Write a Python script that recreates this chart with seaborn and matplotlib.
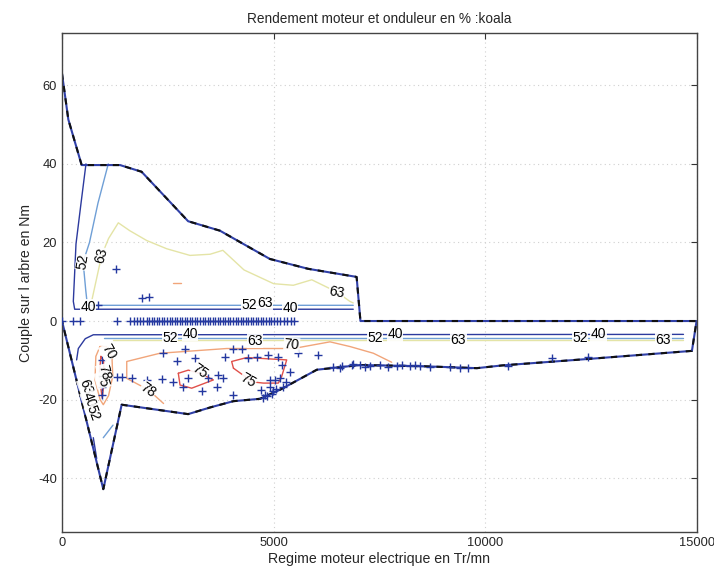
import matplotlib
matplotlib.use("Agg")
import matplotlib.pyplot as plt
import seaborn as sns

sns.set_theme(style="white")
plt.rcParams["font.family"] = ["Liberation Sans", "DejaVu Sans"]
plt.rcParams["axes.unicode_minus"] = False

# Operating envelope of the motor (speed in rpm, torque in Nm)
env_speed = [0, 150, 465, 1370, 1880, 2980, 3730, 4910, 5810, 6920, 6960, 7050,
             14990, 14880, 12500, 10400, 9800, 8500, 7040, 6020, 5150, 4680,
             4050, 3500, 2980, 1410, 976, 0]
env_torque = [63, 51.3, 39.7, 39.7, 38.0, 25.4, 23.0, 15.8, 13.3, 11.3, 11.2, 0.0,
              0.0, -7.6, -9.6, -11.3, -12.0, -11.5, -11.2, -12.4, -17.5, -19.8,
              -20.4, -22.0, -23.7, -21.3, -42.8, 0]

# Efficiency iso-lines (percent), one path per list pair
c40_pos_x = [567, 450, 331, 290, 268, 300, 6880]
c40_pos_y = [40, 30, 19.6, 10, 5, 3.0, 3.0]
c52_pos_x = [1094, 850, 650, 500, 560, 600, 6880]
c52_pos_y = [40, 30, 20, 15, 8, 4.0, 4.0]
c63_pos_x = [700, 937, 1100, 1331, 1600, 2000, 2473, 3024, 3500, 3800, 4300,
             5000, 5465, 5900, 6489, 6800, 6880]
c63_pos_y = [5, 16.7, 21, 25, 23, 20.5, 18.4, 16.7, 17, 18, 13, 9.5, 9.1,
             10.5, 7.4, 5, 4.6]
c70_pos_x = [2620, 2800]
c70_pos_y = [9.7, 9.7]

c40_neg_x = [346, 386, 550, 740, 14680]
c40_neg_y = [-9.9, -7, -4.5, -3.5, -3.4]
c52_neg_x = [1000, 14680]
c52_neg_y = [-4.4, -4.4]
c63_neg_x = [1200, 14680]
c63_neg_y = [-4.9, -4.9]
c70_neg_x = [2400, 2040, 1530, 1530, 2315, 3890, 5465, 6331, 6804, 7355, 7788]
c70_neg_y = [-21, -17.5, -14.6, -10.3, -8.2, -7, -7, -5.3, -6.5, -8.2, -10.5]
c70_pocket_x = [898, 800, 780, 900, 976, 1100, 1200, 1180, 1050, 898]
c70_pocket_y = [-6.5, -9, -15, -20, -21.3, -19, -14, -9, -6.5, -6.5]
c75_pocket_x = [920, 880, 950, 1000, 980, 920]
c75_pocket_y = [-9, -14, -19.6, -15, -10, -9]
c75_a_x = [2748, 2984, 3300, 3575, 3064, 2788, 2748]
c75_a_y = [-13.3, -12.5, -13.5, -15, -17.1, -16.3, -13.3]
c75_b_x = [4050, 4008, 4363, 5308, 5190, 5111, 4756, 4500, 4050]
c75_b_y = [-12, -10.3, -9.3, -9.9, -14.1, -15.8, -15.8, -15.5, -12]
c40_tip_x = [740, 820]
c40_tip_y = [-29.7, -35]
c52_tip_x = [976, 1205]
c52_tip_y = [-29.7, -26.5]

level_colors = {40: "#2c3a9e", 52: "#6f9fd6", 63: "#e4e4a6", 70: "#f1a57a",
                75: "#e0504a", 78: "#c8463c"}

paths = [
    (40, c40_pos_x, c40_pos_y), (52, c52_pos_x, c52_pos_y),
    (63, c63_pos_x, c63_pos_y), (70, c70_pos_x, c70_pos_y),
    (40, c40_neg_x, c40_neg_y), (52, c52_neg_x, c52_neg_y),
    (63, c63_neg_x, c63_neg_y), (70, c70_neg_x, c70_neg_y),
    (70, c70_pocket_x, c70_pocket_y), (75, c75_pocket_x, c75_pocket_y),
    (75, c75_a_x, c75_a_y), (75, c75_b_x, c75_b_y),
    (40, c40_tip_x, c40_tip_y), (52, c52_tip_x, c52_tip_y),
]

# Inline contour labels: speed, torque, level, angle
lab_x = [500, 937, 622, 4420, 4800, 5386, 6489,
         2551, 3024, 4560, 5426, 7394, 7867, 9363, 12237, 12670, 14205,
         1094, 960, 1000, 2040, 3260, 4402, 560, 640, 740]
lab_y = [15, 16.7, 3.6, 4.0, 4.6, 3.2, 7.4,
         -4.3, -3.2, -5.0, -6.1, -4.2, -3.4, -4.9, -4.2, -3.4, -4.9,
         -7.8, -15, -13, -17.5, -12.7, -15, -16.7, -20, -23.4]
lab_level = [52, 63, 40, 52, 63, 40, 63,
             52, 40, 63, 70, 52, 40, 63, 52, 40, 63,
             70, 75, 78, 78, 75, 75, 63, 40, 52]
lab_rot = [80, 75, 0, 0, 0, 0, -10,
           0, 0, 0, -5, 0, 0, 0, 0, 0, 0,
           -60, -75, -75, -35, -35, -30, -70, -70, -70]

# Operating points of the drive cycle
pt_x = [0, 267, 425, 1292, 1600, 1700, 1780, 1850, 1920, 2000, 2060, 2120,
        2180, 2240, 2300, 2360, 2420, 2480, 2540, 2600, 2660, 2720, 2780,
        2840, 2900, 2960, 3020, 3080, 3140, 3200, 3260, 3320, 3380, 3440,
        3500, 3560, 3620, 3680, 3740, 3800, 3860, 3920, 3980, 4040, 4100,
        4160, 4220, 4280, 4340, 4400, 4460, 4520, 4580, 4640, 4700, 4760,
        4820, 4880, 4940, 5000, 5080, 5160, 5240, 5320, 5400, 5480,
        858, 1276, 1882, 2063,
        937, 937, 937, 1292, 1410, 1646, 2000, 2355, 2394, 2709, 2906, 3142,
        2984, 2630, 2866, 3300, 3457, 3693, 3811, 3654, 3851, 4047, 4245,
        4047, 4402, 4599, 4874, 5111, 4914, 5032, 5150, 5386, 4796, 4756,
        4992, 4914, 5229, 5190, 4850, 4950, 5050, 4700, 5300,
        5583, 6055, 6410, 6567, 6607, 6843, 6882, 7040, 7158, 7276, 7512,
        7709, 7906, 8025, 8221, 8339, 8457, 8694, 9166, 9402, 9599, 10543,
        11568, 12433]
pt_y = [0, 0, 0, 0, 0, 0, 0, 0, 0, 0, 0, 0,
        0, 0, 0, 0, 0, 0, 0, 0, 0, 0, 0,
        0, 0, 0, 0, 0, 0, 0, 0, 0, 0, 0,
        0, 0, 0, 0, 0, 0, 0, 0, 0, 0, 0,
        0, 0, 0, 0, 0, 0, 0, 0, 0, 0, 0,
        0, 0, 0, 0, 0, 0, 0, 0, 0, 0,
        4.2, 13.3, 5.9, 6.1,
        -9.9, -16.7, -18.8, -14.3, -14.3, -14.6, -15, -14.8, -8.2, -10.3, -7, -9.5,
        -14.6, -15.4, -16.7, -17.9, -14.6, -13.7, -14.6, -16.7, -9.1, -7, -7,
        -18.8, -9.5, -9.1, -8.7, -9.1, -15, -15, -14.6, -12.9, -18.8, -19.6,
        -17.9, -16.7, -16.7, -11.2, -19.2, -18.5, -17.2, -17.5, -15.5,
        -8.2, -8.7, -11.6, -12.0, -11.5, -11.3, -11.0, -11.2, -11.6, -11.4, -11.3,
        -11.8, -11.4, -11.3, -11.5, -11.3, -11.4, -11.6, -11.8, -11.9, -12.0, -11.4,
        -9.3, -9.1]

speed_ticks = [0, 5000, 10000, 15000]
torque_ticks = [-40, -20, 0, 20, 40, 60]

fig = plt.figure(figsize=(7.14, 5.70), dpi=100)
ax = fig.add_axes([0.0868, 0.0667, 0.8894, 0.8753])

for level, xs, ys in paths:
    sns.lineplot(x=xs, y=ys, sort=False, estimator=None, ax=ax,
                 color=level_colors[level], linewidth=1.0)

# envelope: blue trace with a black dashed overlay
sns.lineplot(x=env_speed, y=env_torque, sort=False, estimator=None, ax=ax,
             color="#3040a8", linewidth=1.5)
sns.lineplot(x=env_speed, y=env_torque, sort=False, estimator=None, ax=ax,
             color="#111111", linewidth=1.5, linestyle=(0, (3, 3)))

sns.scatterplot(x=pt_x, y=pt_y, marker="+", s=30, color="#2438a0",
                linewidth=1.0, ax=ax, zorder=5)

for x, y, lv, r in zip(lab_x, lab_y, lab_level, lab_rot):
    ax.text(x, y, str(lv), rotation=r, ha="center", va="center", fontsize=10,
            color="black", zorder=6,
            bbox=dict(facecolor="white", edgecolor="none", pad=0.3, alpha=0.9))

ax.set_xlim(0, 15000)
ax.set_ylim(-53.7, 73.3)
ax.set_xticks(speed_ticks)
ax.set_yticks(torque_ticks)
ax.tick_params(direction="in", length=4, top=True, right=True, labelsize=9.3,
               color="#333333", width=0.8)
ax.grid(True, color="#d0d0d0", linestyle=(0, (1, 3)), linewidth=0.8)
for s in ax.spines.values():
    s.set_color("#444444")
    s.set_linewidth(1.0)

ax.set_title("Rendement moteur et onduleur en % :koala", fontsize=9.8, pad=7)
ax.set_xlabel("Regime moteur electrique en Tr/mn", fontsize=10.2, labelpad=2)
ax.set_ylabel("Couple sur l arbre en Nm", fontsize=10.2, labelpad=4)

fig.savefig("out.png", dpi=100, facecolor="white")
